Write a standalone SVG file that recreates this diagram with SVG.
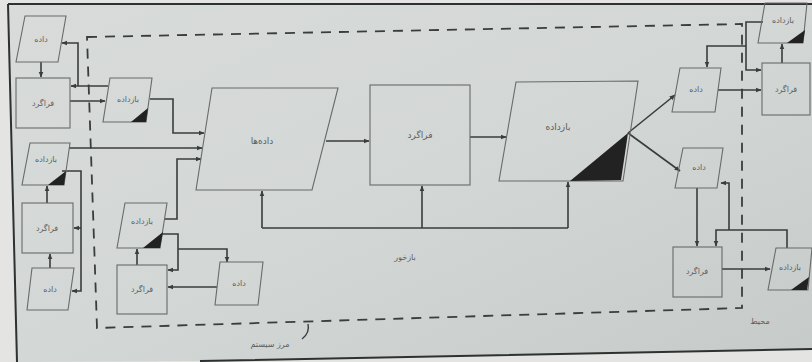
<svg xmlns="http://www.w3.org/2000/svg" width="812" height="362" viewBox="0 0 812 362">
<defs>
<linearGradient id="bg" x1="0" y1="0" x2="1" y2="1">
<stop offset="0" stop-color="#d8dbda"/>
<stop offset="0.5" stop-color="#d3d7d6"/>
<stop offset="1" stop-color="#c6cac9"/>
</linearGradient>
<marker id="ah" viewBox="0 0 10 10" refX="9" refY="5" markerWidth="6" markerHeight="6" orient="auto-start-reverse" markerUnits="userSpaceOnUse">
<path d="M0,1 L10,5 L0,9 Z" fill="#3a3d3d"/>
</marker>
<style>
.box{fill:none;stroke:#686b6b;stroke-width:1.1}
.tri{fill:#222;stroke:none}
.c{fill:none;stroke:#3a3d3d;stroke-width:1.6}
.a{marker-end:url(#ah)}
.t{font-family:"DejaVu Sans",sans-serif;font-size:8px;fill:#5a5d5d;text-anchor:middle}
.tb{font-family:"DejaVu Sans",sans-serif;font-size:9px;fill:#5a5d5d;text-anchor:middle}
.frame{stroke:#2e3131;stroke-width:2;fill:none}
.bnd{fill:none;stroke:#3a3d3d;stroke-width:1.8;stroke-dasharray:10,8}
</style>
</defs>
<rect width="812" height="362" fill="#e4e5e3"/>
<polygon points="8,4 812,4 812,349 200,361 17,362" fill="url(#bg)"/>
<path class="frame" d="M8,4 L812,4 M8,4 L17,362 M200,361 L812,349"/>

<path class="bnd" d="M87,37 L742,24 L742,308 L97,328 Z"/>

<g id="connectors">
<path class="c a" d="M41,62 L41,77"/>
<path class="c a" d="M70,101 L105,101"/>
<path class="c a" d="M108,86 L71,86"/>
<path class="c a" d="M78,86 L78,43 L62,43"/>
<path class="c a" d="M150,99 L173,99 L173,133 L204,133"/>

<path class="c a" d="M50,268 L50,254"/>
<path class="c a" d="M47,203 L47,186"/>
<path class="c a" d="M69,148 L202,148"/>
<path class="c a" d="M62,171 L81,171 L81,291 L72,291"/>
<path class="c a" d="M81,228 L74,228"/>

<path class="c a" d="M137,265 L137,249"/>
<path class="c a" d="M217,287 L168,287"/>
<path class="c a" d="M165,219 L177,219 L177,159 L201,159"/>
<path class="c a" d="M162,234 L178,234 L178,270 L168,270"/>
<path class="c a" d="M178,249 L227,249 L227,262"/>

<path class="c a" d="M326,141 L369,141"/>
<path class="c a" d="M470,137 L506,137"/>
<path class="c" d="M262,228 L568,228"/>
<path class="c a" d="M262,228 L262,191"/>
<path class="c a" d="M422,228 L422,186"/>
<path class="c a" d="M568,228 L568,182"/>
<path class="c a" d="M628,133 L675,95"/>
<path class="c a" d="M628,133 L680,171"/>

<path class="c a" d="M718,90 L761,90"/>
<path class="c a" d="M782,63 L782,44"/>
<path class="c a" d="M763,22 L746,22 L746,70 L761,70"/>
<path class="c a" d="M746,46 L707,46 L707,67"/>

<path class="c a" d="M697,188 L697,246"/>
<path class="c a" d="M722,269 L770,269"/>
<path class="c a" d="M787,248 L787,230 L716,230 L716,246"/>
<path class="c a" d="M729,230 L729,183 L721,183"/>
</g>

<g id="n1"><polygon class="box" points="25,16 66,16 58,62 16,62"/><text class="t" x="41" y="42">داده</text></g>
<g id="n2"><rect class="box" x="16" y="78" width="54" height="50"/><text class="t" x="43" y="106">فراگرد</text></g>
<g id="n3"><polygon class="box" points="110,78 152,78 146,122 103,122"/><polygon class="tri" points="131,122 146,122 148,108"/><text class="t" x="128" y="102">بازداده</text></g>

<g id="n4"><polygon class="box" points="30,143 70,143 64,185 22,185"/><polygon class="tri" points="48,185 64,185 66,171"/><text class="t" x="46" y="162">بازداده</text></g>
<g id="n5"><rect class="box" x="22" y="203" width="51" height="50"/><text class="t" x="47" y="231">فراگرد</text></g>
<g id="n6"><polygon class="box" points="32,268 74,268 68,310 27,310"/><text class="t" x="50" y="292">داده</text></g>

<g id="n7"><polygon class="box" points="125,203 167,203 160,248 117,248"/><polygon class="tri" points="143,248 160,248 163,232"/><text class="t" x="142" y="224">بازداده</text></g>
<g id="n8"><rect class="box" x="117" y="265" width="50" height="49"/><text class="t" x="142" y="292">فراگرد</text></g>
<g id="n9"><polygon class="box" points="220,262 263,262 258,305 215,305"/><text class="t" x="239" y="286">داده</text></g>

<g id="n10"><polygon class="box" points="212,88 338,88 312,190 196,190"/><text class="tb" x="262" y="144">داده‌ها</text></g>
<g id="n11"><rect class="box" x="370" y="85" width="100" height="100"/><text class="tb" x="420" y="138">فراگرد</text></g>
<g id="n12"><polygon class="box" points="516,82 638,81 623,181 499,181"/><polygon class="tri" points="570,181 621,180 628,133"/><text class="tb" x="558" y="130">بازداده</text></g>

<g id="n13"><polygon class="box" points="680,68 721,68 715,112 672,112"/><text class="t" x="696" y="92">داده</text></g>
<g id="n14"><rect class="box" x="762" y="63" width="48" height="52"/><text class="t" x="786" y="92">فراگرد</text></g>
<g id="n15"><polygon class="box" points="765,3 807,3 803,43 758,43"/><polygon class="tri" points="787,43 803,43 805,30"/><text class="t" x="783" y="23">بازداده</text></g>

<g id="n16"><polygon class="box" points="683,148 723,148 717,188 675,188"/><text class="t" x="699" y="170">داده</text></g>
<g id="n17"><rect class="box" x="673" y="247" width="49" height="50"/><text class="t" x="697" y="274">فراگرد</text></g>
<g id="n18"><polygon class="box" points="776,248 812,248 808,290 768,290"/><polygon class="tri" points="791,290 807,290 809,277"/><text class="t" x="790" y="270">بازداده</text></g>

<g id="labels">
<text class="t" x="405" y="260">بازخور</text>
<path d="M308,324 Q310,333 302,339" fill="none" stroke="#3a3d3d" stroke-width="1.4"/>
<text class="t" x="270" y="347">مرز سیستم</text>
<text class="t" x="760" y="324">محیط</text>
</g>
</svg>
